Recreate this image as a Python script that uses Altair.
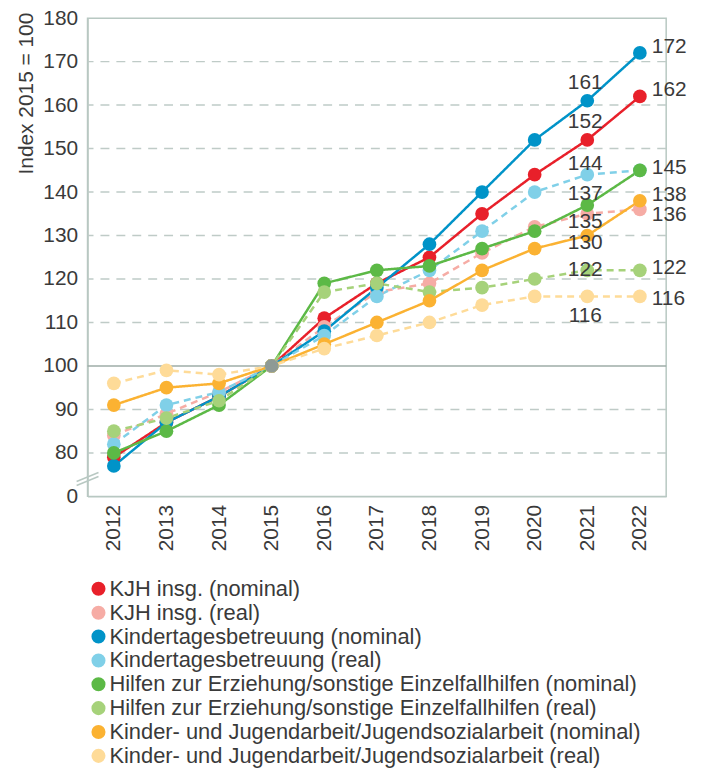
import altair as alt
import pandas as pd

years = list(range(2012, 2023))

series_names = [
    "KJH insg. (nominal)",
    "KJH insg. (real)",
    "Kindertagesbetreuung (nominal)",
    "Kindertagesbetreuung (real)",
    "Hilfen zur Erziehung/sonstige Einzelfallhilfen (nominal)",
    "Hilfen zur Erziehung/sonstige Einzelfallhilfen (real)",
    "Kinder- und Jugendarbeit/Jugendsozialarbeit (nominal)",
    "Kinder- und Jugendarbeit/Jugendsozialarbeit (real)",
]
kinds = ["nominal", "real", "nominal", "real", "nominal", "real", "nominal", "real"]
colors = ["#e8202a", "#f6aca5", "#0093c8", "#80d0e8",
          "#5cb946", "#a6d27a", "#fbb232", "#fedb98"]

kjh_nom = [79, 87, 93, 100, 111, 119, 125, 135, 144, 152, 162]
kjh_real = [84, 89, 94, 100, 109, 117, 119, 126, 132, 135, 136]
kita_nom = [77, 87, 93, 100, 108, 118, 128, 140, 152, 161, 172]
kita_real = [82, 91, 94, 100, 107, 116, 122, 131, 140, 144, 145]
hze_nom = [80, 85, 91, 100, 119, 122, 123, 127, 131, 137, 145]
hze_real = [85, 88, 92, 100, 117, 119, 117, 118, 120, 122, 122]
kja_nom = [91, 95, 96, 100, 105, 110, 115, 122, 127, 130, 138]
kja_real = [96, 99, 98, 100, 104, 107, 110, 114, 116, 116, 116]

all_values = [kjh_nom, kjh_real, kita_nom, kita_real, hze_nom, hze_real, kja_nom, kja_real]

y_ticks = [70, 80, 90, 100, 110, 120, 130, 140, 150, 160, 170, 180]
grid_ticks = [80, 90, 110, 120, 130, 140, 150, 160, 170]

rows = []
for i, (name, kind, vals) in enumerate(zip(series_names, kinds, all_values)):
    for y, v in zip(years, vals):
        rows.append({"year": str(y), "series": name, "line_series": name,
                     "kind": kind, "value": v, "z": i})
df = pd.DataFrame(rows)

FONT = "Liberation Sans"
TXT = "#3a3a3a"
FRAME = "#b8c8c2"
FS = 21

x_enc = alt.X("year:O", scale=alt.Scale(type="point", padding=0.5), title=None,
              axis=alt.Axis(labelAngle=270, ticks=False, labelPadding=8, domainColor=FRAME,
                            domainWidth=1.5, grid=False))
y_enc = alt.Y("value:Q", scale=alt.Scale(domain=[70, 180], nice=False, zero=False),
              title="Index 2015 = 100",
              axis=alt.Axis(values=y_ticks, ticks=False, labelPadding=10,
                            labelExpr="datum.value == 70 ? '0' : datum.label",
                            domainColor=FRAME, domainWidth=1.5,
                            grid=False, titleAnchor="end", titleY=-6, titlePadding=6))

base = alt.Chart(df)

grid = alt.Chart(pd.DataFrame({"g": grid_ticks})).mark_rule(
    color="#bfcbc7", strokeWidth=1.5, strokeDash=[9, 7]
).encode(y=alt.Y("g:Q", scale=alt.Scale(domain=[70, 180], nice=False, zero=False)))

hundred = alt.Chart(pd.DataFrame({"g": [100]})).mark_rule(
    color="#9eaca7", strokeWidth=1.5
).encode(y="g:Q")

lines = base.mark_line(strokeWidth=2.5).encode(
    x=x_enc, y=y_enc,
    color=alt.Color("line_series:N", scale=alt.Scale(domain=series_names, range=colors),
                    legend=None),
    strokeDash=alt.StrokeDash("kind:N", scale=alt.Scale(domain=["nominal", "real"],
                                                        range=[[1, 0], [7, 5]]), legend=None),
    detail="series:N",
)

points = base.mark_circle(size=190, opacity=1).encode(
    x="year:O", y="value:Q",
    color=alt.Color("series:N", scale=alt.Scale(domain=series_names, range=colors),
                    legend=alt.Legend(title=None, orient="none", legendX=0, legendY=563,
                                      symbolType="circle", symbolSize=200, symbolOpacity=1,
                                      symbolStrokeWidth=0,
                                      labelFontSize=22, labelFont=FONT, labelColor=TXT,
                                      labelLimit=0, rowPadding=2, labelOffset=0,
                                      direction="vertical")),
    order=alt.Order("z:Q"),
)

center = alt.Chart(pd.DataFrame({"year": ["2015"], "value": [100]})).mark_circle(
    size=190, opacity=1, color="#8e9a95"
).encode(x="year:O", y="value:Q")

lab = df[df["year"].isin(["2021", "2022"])]


def labels(year, names, dx, dy, align):
    return alt.Chart(lab).transform_filter(
        alt.FieldEqualPredicate(field="year", equal=year)
    ).transform_filter(
        alt.FieldOneOfPredicate(field="series", oneOf=names)
    ).mark_text(dx=dx, dy=dy, align=align, baseline="middle", fontSize=FS,
                font=FONT, color=TXT).encode(
        x="year:O", y="value:Q", text="value:Q")


s = series_names
text_layers = [
    labels("2021", [s[0], s[2]], -2, -18, "center"),
    labels("2021", [s[3], s[4]], -2, -11, "center"),
    labels("2021", [s[1], s[6]], -2, 8, "center"),
    labels("2021", [s[5]], -2, 0, "center"),
    labels("2021", [s[7]], -2, 20, "center"),
    labels("2022", [s[2], s[0], s[6]], 12, -6, "left"),
    labels("2022", [s[4], s[5]], 12, -2, "left"),
    labels("2022", [s[1]], 12, 6, "left"),
    labels("2022", [s[7]], 12, 3, "left"),
]

brk1 = alt.Chart(pd.DataFrame({"a": [0]})).mark_rule(color=FRAME, strokeWidth=1.5).encode(
    x=alt.value(-11), x2=alt.value(11), y=alt.value(466), y2=alt.value(457))
brk2 = alt.Chart(pd.DataFrame({"a": [0]})).mark_rule(color=FRAME, strokeWidth=1.5).encode(
    x=alt.value(-11), x2=alt.value(11), y=alt.value(470), y2=alt.value(461))

chart = alt.layer(
    grid, hundred, lines, points, center, *text_layers, brk1, brk2
).resolve_scale(
    color="independent"
).resolve_legend(
    color="independent"
).properties(
    width=582, height=481,
    autosize=alt.AutoSizeParams(type="none"),
    padding={"left": 80, "top": 8, "right": 30, "bottom": 272},
).configure_view(
    stroke=FRAME, strokeWidth=1.5
).configure_axis(
    labelFont=FONT, labelFontSize=FS, labelColor=TXT,
    titleFont=FONT, titleFontSize=FS, titleColor=TXT, titleFontWeight="normal",
)

chart.save("out.html", embed_options={"renderer": "svg", "actions": False})
